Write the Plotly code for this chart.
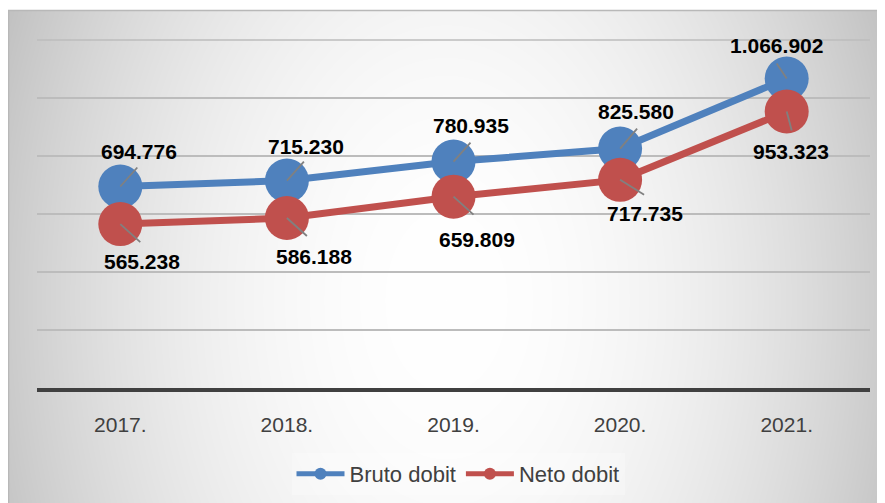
import base64, struct, zlib
import numpy as np
import plotly.graph_objects as go

# ---- data ----
years = ["2017.", "2018.", "2019.", "2020.", "2021."]
bruto = [694776, 715230, 780935, 825580, 1066902]
neto = [565238, 586188, 659809, 717735, 953323]
series_names = ["Bruto dobit", "Neto dobit"]

BLUE = "#4f81bd"
RED = "#c0504d"

# ---- background gradient image (style only) ----
W, H = 877, 493
yy, xx = np.mgrid[0:H, 0:W].astype(float)
dx = (xx - 438) / 440.0
dy = (yy - 290) / 290.0
img = 255 - 52 * dx ** 2 - 10 * dy ** 2
img = np.clip(img, 185, 255).astype(np.uint8)

def png_gray(a):
    h, w = a.shape
    raw = b"".join(b"\x00" + a[i].tobytes() for i in range(h))
    def chunk(t, d):
        c = struct.pack(">I", len(d)) + t + d
        return c + struct.pack(">I", zlib.crc32(t + d) & 0xffffffff)
    return (b"\x89PNG\r\n\x1a\n" + chunk(b"IHDR", struct.pack(">IIBBBBB", w, h, 8, 0, 0, 0, 0))
            + chunk(b"IDAT", zlib.compress(raw, 9)) + chunk(b"IEND", b""))

bg_uri = "data:image/png;base64," + base64.b64encode(png_gray(img)).decode()

# page has an 8px body margin; figure is 877x495, screen = fig + 8
FW, FH = 877, 495
OFF = 8
# plot area in screen pixels: x 37..870, y 40..388
L, R, T, B = 37 - OFF, FW - (870 - OFF), 40 - OFF, FH - (388 - OFF)
PW, PH = FW - L - R, FH - T - B
def px(xs):
    return (xs - OFF - L) / PW
def py(ys):
    return (FH - B - (ys - OFF)) / PH

idx = list(range(len(years)))

fig = go.Figure()
for name, vals, col in [(series_names[0], bruto, BLUE), (series_names[1], neto, RED)]:
    fig.add_trace(go.Scatter(
        x=idx, y=vals, name=name, mode="lines+markers",
        line=dict(color=col, width=7),
        marker=dict(color=col, size=44),
        cliponaxis=False,
    ))

fmt = lambda v: f"{v:,}".replace(",", ".")

# label offsets (px) and leader line directions (px)
bruto_off = [(19, 35), (19, 34), (17, 36), (16, 37), (-10, 33)]
neto_off = [(22, -37), (27, -38), (23, -43), (25, -34), (4, -40)]
bruto_lead = [(17, 19), (17, 19), (17, 19), (17, 20), (-10, 15)]
neto_lead = [(20, -18), (20, -18), (20, -18), (24, -15), (5, -19)]

annotations = []
shapes = []
for vals, offs, leads in [(bruto, bruto_off, bruto_lead), (neto, neto_off, neto_lead)]:
    for i, v, (ox, oy), (lx, ly) in zip(idx, vals, offs, leads):
        annotations.append(dict(
            x=i, y=v, xref="x", yref="y", text=fmt(v), showarrow=False,
            xshift=ox, yshift=oy,
            font=dict(family="Liberation Sans, Arial", size=21, color="#000000", weight="bold"),
        ))
        shapes.append(dict(
            type="line", xref="x", yref="y", xsizemode="pixel", ysizemode="pixel",
            xanchor=i, yanchor=v, x0=0, y0=0, x1=lx, y1=ly,
            line=dict(color="#808080", width=1.8), layer="above",
        ))

# chart area border
shapes.append(dict(type="rect", xref="paper", yref="paper",
                   x0=px(8.5), x1=px(890), y0=py(510), y1=py(10.5),
                   line=dict(color="#b8b8b8", width=1.5), fillcolor="rgba(0,0,0,0)", layer="below"))
# top gridline at the plot edge
shapes.append(dict(type="line", xref="paper", yref="paper", x0=0, x1=1, y0=1, y1=1,
                   line=dict(color="#bcbcbc", width=1.5), layer="below"))

fig.update_layout(
    width=FW, height=FH,
    margin=dict(l=L, r=R, t=T, b=B, autoexpand=False),
    paper_bgcolor="white",
    plot_bgcolor="rgba(0,0,0,0)",
    showlegend=True,
    legend=dict(orientation="h", x=px(458), xanchor="center", y=py(474), yanchor="middle",
                font=dict(family="Liberation Sans, Arial", size=22, color="#404040"),
                bgcolor="rgba(255,255,255,0.25)", itemsizing="constant", itemwidth=48,
                traceorder="normal"),
    images=[dict(source=bg_uri, xref="paper", yref="paper", x=px(8), y=py(10),
                 sizex=px(885) - px(8), sizey=py(10) - py(503), sizing="stretch",
                 xanchor="left", yanchor="top", layer="below")],
    annotations=annotations,
    shapes=shapes,
)
fig.update_xaxes(
    type="linear", automargin=False, range=[-0.5, len(years) - 0.5],
    tickmode="array", tickvals=idx, ticktext=years,
    showgrid=False, zeroline=False, showline=True, linecolor="#404040", linewidth=4,
    ticks="", ticklabelstandoff=15,
    tickfont=dict(family="Liberation Sans, Arial", size=21, color="#404040"),
)
fig.update_yaxes(
    automargin=False,
    range=[0, 1200000], tickmode="array", tickvals=[0, 200000, 400000, 600000, 800000, 1000000],
    showgrid=True, gridcolor="#bcbcbc", gridwidth=1.5,
    showticklabels=False, zeroline=False, showline=False,
)

fig.write_html("out.html")
